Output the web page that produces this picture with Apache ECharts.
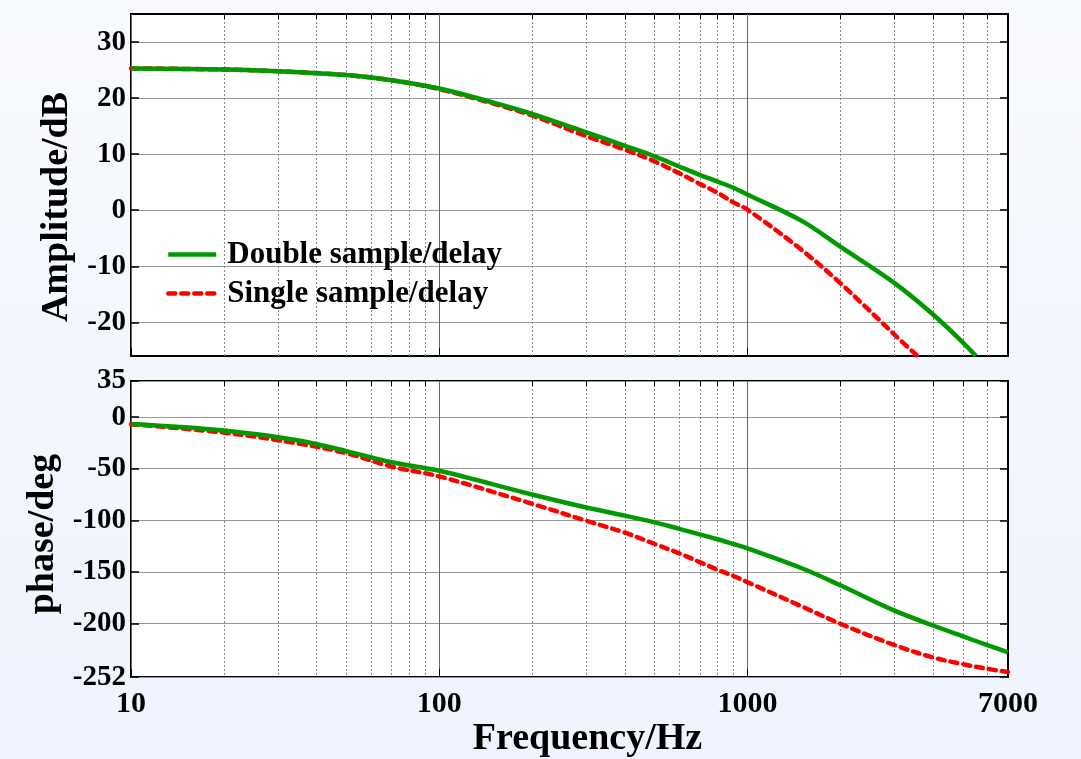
<!DOCTYPE html>
<html>
<head>
<meta charset="utf-8">
<script src="https://cdn.jsdelivr.net/npm/echarts@6/dist/echarts.min.js"></script>
<style>
html, body { margin: 0; padding: 0; }
#chart { width: 1081px; height: 759px; }
</style>
</head>
<body>
<div id="chart"></div>
<script>
// Bode plot data: [frequency Hz, value]
const ampDouble = [[10, 25.3], [20, 25.1], [30, 24.8], [50, 24.1], [70, 23.2], [100, 21.7], [150, 19.2], [200, 17.2], [300, 13.9], [400, 11.5], [500, 9.6], [600, 7.8], [700, 6.3], [800, 5.1], [900, 4.0], [1000, 2.8], [1500, -1.9], [2000, -6.5], [3000, -13.0], [4000, -18.6], [5000, -23.6], [5510, -26]]
const ampSingle = [[10, 25.3], [20, 25.1], [30, 24.8], [50, 24.1], [70, 23.2], [100, 21.6], [150, 19.0], [200, 16.9], [300, 13.2], [400, 10.8], [500, 8.7], [600, 6.6], [700, 4.7], [800, 3.1], [900, 1.4], [1000, 0.1], [1500, -7.1], [2000, -13.0], [3000, -22.2], [3556, -26]]
const phaseDouble = [[10, -6.7], [20, -13], [35, -22.6], [50, -33], [70, -43.8], [100, -52], [200, -75], [300, -87.6], [400, -95.5], [500, -102], [600, -108.3], [700, -113.6], [800, -118.4], [900, -123], [1000, -127.3], [1500, -146.5], [2000, -163], [3000, -187.6], [4000, -202], [5000, -212.5], [6000, -221], [7000, -228]]
const phaseSingle = [[10, -6.9], [20, -15], [35, -25.7], [50, -35], [70, -48], [100, -57.5], [200, -84], [300, -100.5], [400, -112], [500, -123], [600, -132], [700, -140.6], [800, -148], [900, -154], [1000, -160], [1500, -183.5], [2000, -200.3], [3000, -221], [4000, -233], [5000, -239.5], [6000, -244], [7000, -247]]

const majorFreq = [10, 100, 1000]
const minorFreq = [20, 30, 40, 50, 60, 70, 80, 90, 200, 300, 400, 500, 600, 700, 800, 900, 2000, 3000, 4000, 5000, 6000]
const freqLabels = [10, 100, 1000, 7000]
const ampTicks = [-20, -10, 0, 10, 20, 30]
const phaseTicks = [-252, -200, -150, -100, -50, 0, 35]

const font = 'Liberation Serif'
const chart = echarts.init(document.getElementById('chart'))

function xMajor(grid, showLabel) {
  return {
    type: 'log', logBase: 10, gridIndex: grid, min: 10, max: 7000,
    axisLine: { show: false, onZero: false },
    axisTick: { show: true, inside: true, length: 8, customValues: majorFreq, lineStyle: { color: '#000' } },
    axisLabel: {
      show: showLabel, customValues: freqLabels, margin: 12,
      formatter: v => String(v),
      color: '#000', fontFamily: font, fontWeight: 'bold', fontSize: 30
    },
    splitLine: { show: true, lineStyle: { color: '#666', width: 1 } },
    name: showLabel ? 'Frequency/Hz' : '',
    nameLocation: 'middle', nameGap: 40,
    nameTextStyle: { color: '#000', fontFamily: font, fontWeight: 'bold', fontSize: 38, padding: [0, 0, 0, 36] }
  }
}
function xMinor(grid) {
  return {
    type: 'log', logBase: 10, gridIndex: grid, min: 10, max: 7000,
    axisLine: { show: false, onZero: false },
    axisTick: { show: true, inside: true, length: 5, customValues: minorFreq, lineStyle: { color: '#000' } },
    axisLabel: { show: false },
    splitLine: { show: true, lineStyle: { color: '#888', width: 1, type: [2, 2] } }
  }
}
function yAxis(grid, ticks, min, max, name, pos, namePad) {
  const left = pos === 'left'
  return {
    type: 'value', gridIndex: grid, min: min, max: max, position: pos,
    axisLine: { show: false, onZero: false },
    axisTick: { show: true, inside: true, length: 8, customValues: ticks, lineStyle: { color: '#000', width: 1.5 } },
    axisLabel: {
      show: left, customValues: ticks, margin: 5,
      color: '#000', fontFamily: font, fontWeight: 'bold', fontSize: 29
    },
    splitLine: { show: left, lineStyle: { color: '#999', width: 1.2 } },
    name: left ? name : '',
    nameLocation: 'middle', nameGap: 44,
    nameTextStyle: { color: '#000', fontFamily: font, fontWeight: 'bold', fontSize: 38, padding: namePad || 0 }
  }
}

const option = {
  backgroundColor: new echarts.graphic.LinearGradient(0, 0, 0, 1, [
    { offset: 0, color: '#f8fafe' },
    { offset: 1, color: '#eef3fd' }
  ]),
  animation: false,
  legend: {
    orient: 'vertical', left: 161, top: 234,
    itemWidth: 48, itemHeight: 16, itemGap: 8,
    itemStyle: { opacity: 0 },
    lineStyle: { width: 4.5 },
    textStyle: { color: '#000', fontFamily: font, fontWeight: 'bold', fontSize: 31, padding: [0, 0, 0, 6] },
    data: ['Double sample/delay', 'Single sample/delay']
  },
  grid: [
    { left: 131, right: 73, top: 14, height: 342, show: true, backgroundColor: '#fff', borderColor: '#000', borderWidth: 2 },
    { left: 131, right: 73, top: 381, height: 303, show: true, backgroundColor: '#fff', borderColor: '#000', borderWidth: 2 }
  ],
  xAxis: [xMajor(0, false), xMinor(0), xMajor(1, true), xMinor(1)],
  yAxis: [
    yAxis(0, ampTicks, -26, 35, 'Amplitude/dB', 'left', [0, 44, 0, 0]),
    yAxis(0, ampTicks, -26, 35, '', 'right'),
    yAxis(1, phaseTicks, -252, 35, 'phase/deg', 'left', [0, 10, 0, 0]),
    yAxis(1, phaseTicks, -252, 35, '', 'right')
  ],
  series: [
    {
      name: 'Double sample/delay', type: 'line', xAxisIndex: 0, yAxisIndex: 0, data: ampDouble,
      symbol: 'none', smooth: 0.35, z: 3, lineStyle: { color: '#009900', width: 4.5 }, itemStyle: { color: '#009900' }
    },
    {
      name: 'Single sample/delay', type: 'line', xAxisIndex: 0, yAxisIndex: 0, data: ampSingle,
      symbol: 'none', smooth: 0.35, z: 2, lineStyle: { color: '#ff0000', width: 4.5, type: [7, 6], cap: 'round' }, itemStyle: { color: '#ff0000' }
    },
    {
      name: 'Double sample/delay', type: 'line', xAxisIndex: 2, yAxisIndex: 2, data: phaseDouble,
      symbol: 'none', smooth: 0.35, z: 3, lineStyle: { color: '#009900', width: 4.5 }, itemStyle: { color: '#009900' }
    },
    {
      name: 'Single sample/delay', type: 'line', xAxisIndex: 2, yAxisIndex: 2, data: phaseSingle,
      symbol: 'none', smooth: 0.35, z: 2, lineStyle: { color: '#ff0000', width: 4.5, type: [7, 6], cap: 'round' }, itemStyle: { color: '#ff0000' }
    }
  ]
}
chart.setOption(option)
</script>
</body>
</html>
